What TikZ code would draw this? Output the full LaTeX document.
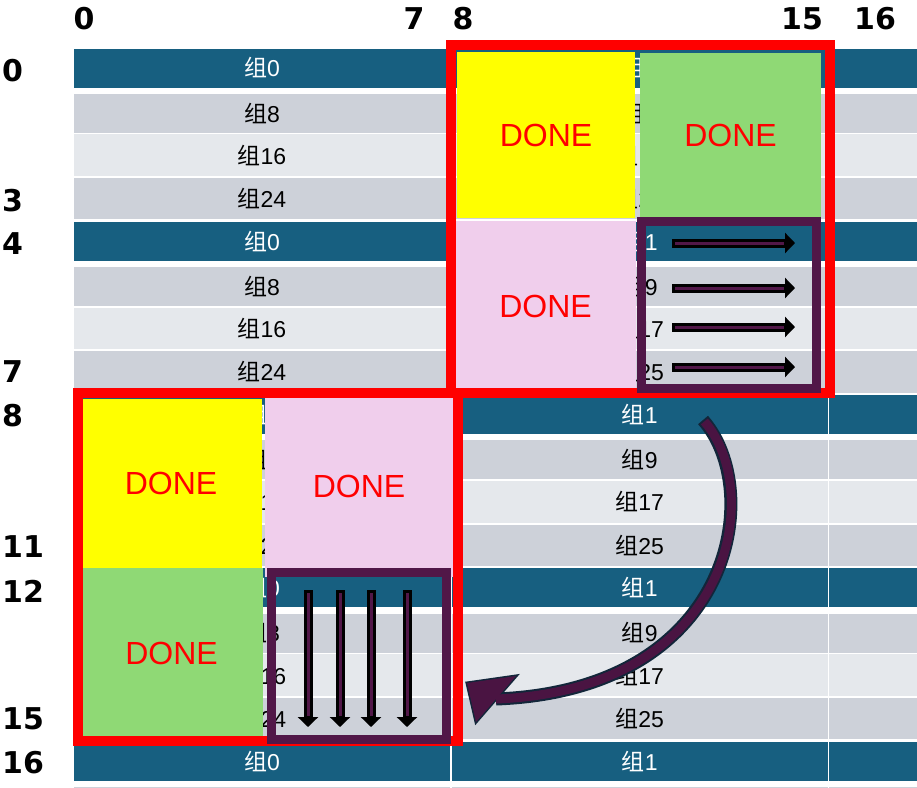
\documentclass[tikz,border=0pt]{standalone}
\usepackage{fontspec}
\setmainfont{Liberation Sans}
\newfontfamily\cjk{Noto Sans CJK SC}
\newfontfamily\axisfont{DejaVu Sans}
\usetikzlibrary{arrows.meta}

\definecolor{rowdark}{HTML}{175F80}
\definecolor{rowgray}{HTML}{CDD1D9}
\definecolor{rowlight}{HTML}{E5E8EC}
\definecolor{donegreen}{HTML}{8FD975}
\definecolor{donepink}{HTML}{F0CEEC}
\definecolor{frameyellow}{HTML}{FFFF00}
\definecolor{framepurple}{HTML}{511748}
\definecolor{arrowpurple}{HTML}{4A1442}
\definecolor{arrowedge}{HTML}{12263A}

\newcommand{\grp}[1]{{\cjk 组}#1}

\begin{document}
\begin{tikzpicture}[
    x=1pt, y=-1pt,
    cell/.style={anchor=north west, inner sep=0pt, font=\fontsize{23}{23}\selectfont},
    row0/.style={fill=rowdark, text=white, minimum height=39pt},
    row1/.style={fill=rowgray, minimum height=39pt, yshift=-1.7pt},
    row2/.style={fill=rowlight, minimum height=41.7pt, yshift=0.8pt},
    row3/.style={fill=rowgray, minimum height=41.3pt, yshift=0.6pt},
    ticknum/.style={font=\axisfont\bfseries\fontsize{30}{30}\selectfont, inner sep=0pt},
    donetext/.style={inner sep=0pt, text=red, font=\fontsize{32}{32}\selectfont},
    redframe/.style={draw=red, line width=10pt, inner sep=0pt},
    purpleframe/.style={draw=framepurple, line width=9pt, inner sep=0pt},
    movearrow/.style={line width=9pt, -{Triangle[width=20pt, length=10pt]}},
    moveinner/.style={line width=3pt, draw=framepurple, shorten <=3pt, shorten >=11pt},
    bendedge/.style={draw=arrowedge, line width=13pt},
    bendfill/.style={draw=arrowpurple, line width=9pt, shorten <=2pt}
    ]

    \useasboundingbox (0,0) rectangle (917,787);
    \clip (0,0) rectangle (917,787);

    % table rows
    \foreach \r in {0,...,16} {
        \pgfmathsetmacro{\rowy}{48.3+43.33*\r}
        \pgfmathtruncatemacro{\k}{mod(\r,4)}
        \pgfmathtruncatemacro{\ga}{8*\k}
        \pgfmathtruncatemacro{\gb}{8*\k+1}
        \node[cell, row\k, minimum width=376.5pt] (L\r) at (73.5,\rowy) {\grp{\ga}};
        \node[cell, row\k, minimum width=376pt] (R\r) at (451.5,\rowy) {\grp{\gb}};
        \node[cell, row\k, minimum width=100pt] (X\r) at (829,\rowy) {};
    }
    \node[cell, row1, minimum width=376.5pt] (L17) at (73.5,784.9) {};
    \node[cell, row1, minimum width=376pt] (R17) at (451.5,784.9) {};
    \node[cell, row1, minimum width=100pt] (X17) at (829,784.9) {};

    % index numbers
    \node[ticknum] (c0) at (84,19) {0};
    \node[ticknum] (c7) at (414,19) {7};
    \node[ticknum] (c8) at (463,19) {8};
    \node[ticknum] (c15) at (802,19) {15};
    \node[ticknum] (c16) at (875,19) {16};
    \node[ticknum, anchor=west] (n0) at (2,71) {0};
    \node[ticknum, anchor=west] (n3) at (2,201) {3};
    \node[ticknum, anchor=west] (n4) at (2,244) {4};
    \node[ticknum, anchor=west] (n7) at (2,372) {7};
    \node[ticknum, anchor=west] (n8) at (2,416) {8};
    \node[ticknum, anchor=west] (n11) at (2,547) {11};
    \node[ticknum, anchor=west] (n12) at (2,591) {12};
    \node[ticknum, anchor=west] (n15) at (2,719) {15};
    \node[ticknum, anchor=west] (n16) at (2,763) {16};

    % finished blocks
    \node[donetext, fill=frameyellow, minimum width=178pt, minimum height=166pt] (doneA) at (546,135) {DONE};
    \node[donetext, fill=donegreen, minimum width=181pt, minimum height=165pt] (doneB) at (730.5,135.5) {DONE};
    \node[donetext, fill=donepink, minimum width=181pt, minimum height=171pt] (doneC) at (545.5,306.5) {DONE};
    \node[donetext, fill=frameyellow, minimum width=182pt, minimum height=169pt] (doneD) at (171,483.5) {DONE};
    \node[donetext, fill=donepink, minimum width=188pt, minimum height=182pt] (doneE) at (359,486) {DONE};
    \node[donetext, fill=donegreen, minimum width=183pt, minimum height=171pt] (doneF) at (171.5,653.5) {DONE};

    \node[redframe, minimum width=379pt, minimum height=348pt] (blockTR) at (640.5,219) {};
    \node[redframe, minimum width=380pt, minimum height=348pt] (blockBL) at (268,567) {};

    \node[purpleframe, minimum width=175pt, minimum height=167pt] (srcTR) at (729,305) {};
    \node[purpleframe, minimum width=175pt, minimum height=167pt] (dstBL) at (359,656) {};

    % row-wise reads
    \foreach \i/\yy in {1/243, 2/288, 3/327, 4/367} {
        \coordinate (ra\i) at (672,\yy);
        \coordinate (rb\i) at (795,\yy);
        \draw[movearrow] (ra\i) -- (rb\i);
        \draw[moveinner] (ra\i) -- (rb\i);
    }
    % column-wise writes
    \foreach \i/\xx in {1/308, 2/340, 3/371, 4/407} {
        \coordinate (da\i) at (\xx,590);
        \coordinate (db\i) at (\xx,727);
        \draw[movearrow] (da\i) -- (db\i);
        \draw[moveinner] (da\i) -- (db\i);
    }

    % transpose
    \coordinate (bendS) at (703,420);
    \coordinate (bendE) at (496,699);
    \draw[bendedge] (bendS) .. controls (765,490) and (735,690) .. (bendE);
    \draw[arrowedge, line width=3pt] (467,683) -- (516,676) -- (476,722) -- cycle;
    \draw[bendfill] (bendS) .. controls (765,490) and (735,690) .. (bendE);
    \fill[arrowpurple] (467,683) -- (516,676) -- (476,722) -- cycle;

\end{tikzpicture}
\end{document}
